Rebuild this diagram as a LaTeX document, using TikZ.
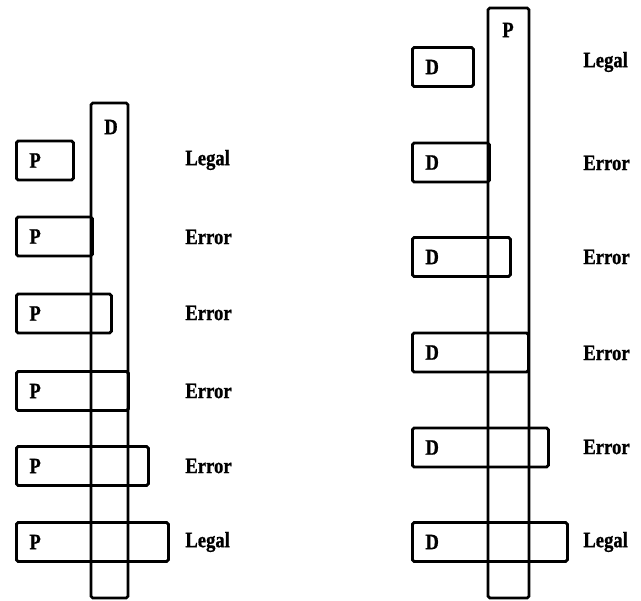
\documentclass[tikz,border=0pt]{standalone}
\usepackage{fontspec}
\setmainfont{Liberation Serif}[BoldFeatures={FakeStretch=0.85,FakeBold=0.8}]
\usetikzlibrary{positioning}

\begin{document}
\begin{tikzpicture}[
  font=\bfseries\fontsize{12.5}{14}\selectfont,
  bar/.style={
    draw,
    line width=1.6pt,
    rounded corners=1pt,
    inner sep=0pt
  },
  box/.style={
    draw,
    line width=1.6pt,
    rounded corners=1pt,
    anchor=west,
    align=left,
    minimum height=0.78cm,
    inner xsep=0.26cm,
    text width=#1
  },
  verdict/.style={anchor=west, inner sep=0pt}
]
\useasboundingbox (0,0) rectangle (12.82,-12.02);

% left column: long D, shorter P boxes sliding in
\node[bar, minimum width=0.74cm, minimum height=9.90cm] (dbar) at (2.19,-7.01) {};
\node (dtag) at (2.22,-2.54) {D};

\node[box=0.62cm] (p1) at (0.30,-3.21) {P};
\node[box=1.00cm] (p2) at (0.30,-4.73) {P};
\node[box=1.38cm] (p3) at (0.30,-6.27) {P};
\node[box=1.72cm] (p4) at (0.30,-7.82) {P};
\node[box=2.12cm] (p5) at (0.30,-9.32) {P};
\node[box=2.52cm] (p6) at (0.30,-10.84) {P};

\node[verdict] (lv1) at (3.70,-3.20) {Legal};
\node[verdict] (lv2) at (3.70,-4.74) {Error};
\node[verdict] (lv3) at (3.70,-6.26) {Error};
\node[verdict] (lv4) at (3.70,-7.82) {Error};
\node[verdict] (lv5) at (3.70,-9.32) {Error};
\node[verdict] (lv6) at (3.70,-10.84) {Legal};

% right column: long P, shorter D boxes sliding in
\node[bar, minimum width=0.82cm, minimum height=11.80cm] (pbar) at (10.17,-6.06) {};
\node (ptag) at (10.16,-0.60) {P};

\node[box=0.70cm] (d1) at (8.22,-1.34) {D};
\node[box=1.02cm] (d2) at (8.22,-3.25) {D};
\node[box=1.44cm] (d3) at (8.22,-5.14) {D};
\node[box=1.80cm] (d4) at (8.22,-7.05) {D};
\node[box=2.20cm] (d5) at (8.22,-8.95) {D};
\node[box=2.58cm] (d6) at (8.22,-10.84) {D};

\node[verdict] (rv1) at (11.66,-1.24) {Legal};
\node[verdict] (rv2) at (11.66,-3.26) {Error};
\node[verdict] (rv3) at (11.66,-5.14) {Error};
\node[verdict] (rv4) at (11.66,-7.06) {Error};
\node[verdict] (rv5) at (11.66,-8.94) {Error};
\node[verdict] (rv6) at (11.66,-10.84) {Legal};

\end{tikzpicture}
\end{document}
